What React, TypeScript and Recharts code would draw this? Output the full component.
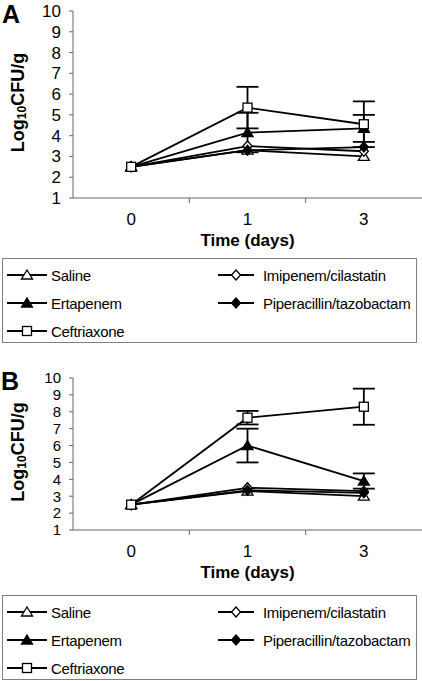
import React from 'react';
import { LineChart, Line, XAxis, YAxis, ErrorBar } from 'recharts';

const times = ['0', '1', '3'];
const yTicks = [1, 2, 3, 4, 5, 6, 7, 8, 9, 10];

const seriesKeys = ['saline', 'imipenem', 'ertapenem', 'piptaz', 'ceftriaxone'];
const seriesNames = ['Saline', 'Imipenem/cilastatin', 'Ertapenem', 'Piperacillin/tazobactam', 'Ceftriaxone'];
const seriesShapes = ['triOpen', 'diaOpen', 'triFilled', 'diaFilled', 'sqOpen'];

// Panel A
const salineA = [2.5, 3.3, 3.0];
const imipenemA = [2.5, 3.5, 3.25];
const ertapenemA = [2.5, 4.15, 4.35];
const piptazA = [2.5, 3.3, 3.45];
const ceftriaxoneA = [2.5, 5.35, 4.55];
const ertapenemErrA = [null, 0.95, 0.65];
const ceftriaxoneErrA = [null, 1.0, 1.1];

// Panel B
const salineB = [2.5, 3.3, 3.0];
const imipenemB = [2.5, 3.5, 3.3];
const ertapenemB = [2.5, 6.0, 3.9];
const piptazB = [2.5, 3.35, 3.2];
const ceftriaxoneB = [2.5, 7.65, 8.3];
const ertapenemErrB = [null, 1.0, 0.45];
const ceftriaxoneErrB = [null, 0.4, 1.07];

function buildRows(vals: number[][], ertErr: (number | null)[], cefErr: (number | null)[]) {
  return times.map((t, i) => {
    const row: any = { time: t };
    seriesKeys.forEach((k, j) => {
      row[k] = vals[j][i];
    });
    if (ertErr[i] != null) row.ertapenemErr = ertErr[i];
    if (cefErr[i] != null) row.ceftriaxoneErr = cefErr[i];
    return row;
  });
}

const dataA = buildRows([salineA, imipenemA, ertapenemA, piptazA, ceftriaxoneA], ertapenemErrA, ceftriaxoneErrA);
const dataB = buildRows([salineB, imipenemB, ertapenemB, piptazB, ceftriaxoneB], ertapenemErrB, ceftriaxoneErrB);

const FONT = '"Liberation Sans", Arial, sans-serif';
const W = 422;
const LEFT = 73;
const BAND = (W - LEFT) / times.length;

function Marker({ shape, cx, cy }: { shape: string; cx: number; cy: number }) {
  const sw = 1.3;
  if (shape === 'triOpen' || shape === 'triFilled') {
    const pts = `${cx},${cy - 5} ${cx + 5.5},${cy + 4} ${cx - 5.5},${cy + 4}`;
    return <polygon points={pts} fill={shape === 'triFilled' ? '#000' : '#fff'} stroke="#000" strokeWidth={sw} />;
  }
  if (shape === 'diaOpen' || shape === 'diaFilled') {
    const pts = `${cx},${cy - 5} ${cx + 4.5},${cy} ${cx},${cy + 5} ${cx - 4.5},${cy}`;
    return <polygon points={pts} fill={shape === 'diaFilled' ? '#000' : '#fff'} stroke="#000" strokeWidth={sw} />;
  }
  return <rect x={cx - 4.5} y={cy - 4.5} width={9} height={9} fill="#fff" stroke="#000" strokeWidth={sw} />;
}

const XTick = (props: any) => {
  const { x, y, payload, index } = props;
  return (
    <g>
      <text x={x} y={y + 27} textAnchor="middle" fontSize={17} fontFamily={FONT} fill="#000">
        {payload.value}
      </text>
      {index < times.length - 1 && (
        <line x1={x + BAND / 2} x2={x + BAND / 2} y1={y} y2={y + 5} stroke="#666" strokeWidth={1} />
      )}
    </g>
  );
};

const YLabel = (props: any) => {
  const vb = props.viewBox || { x: 13, y: 0, width: 60, height: 200 };
  const cx = 18;
  const cy = vb.y + vb.height / 2 - 2;
  return (
    <text
      x={cx}
      y={cy}
      transform={`rotate(-90 ${cx} ${cy})`}
      textAnchor="middle"
      dominantBaseline="central"
      fontSize={18}
      fontWeight="bold"
      fontFamily={FONT}
      fill="#000"
    >
      Log
      <tspan fontSize={12} dy={4}>10</tspan>
      <tspan dy={-4}>CFU/g</tspan>
    </text>
  );
};

const XLabel = (props: any) => {
  const vb = props.viewBox || { x: 73, y: 200, width: 349, height: 50 };
  return (
    <text
      x={vb.x + vb.width / 2}
      y={vb.y + 48}
      textAnchor="middle"
      fontSize={17}
      fontWeight="bold"
      fontFamily={FONT}
      fill="#000"
    >
      Time (days)
    </text>
  );
};

function Panel({ data, height, top, yFont }: { data: any[]; height: number; top: number; yFont: number }) {
  return (
    <LineChart width={W} height={height} data={data} margin={{ top, right: 0, left: 13, bottom: 2 }}>
      <XAxis
        dataKey="time"
        scale="band"
        height={50}
        tickLine={false}
        tickSize={0}
        tickMargin={0}
        tick={<XTick />}
        stroke="#666"
        interval={0}
        label={<XLabel />}
      />
      <YAxis
        domain={[1, 10]}
        ticks={yTicks}
        width={60}
        interval={0}
        tickSize={4}
        tickMargin={8}
        stroke="#666"
        tick={{ fill: '#000', fontSize: yFont, fontFamily: FONT }}
        label={<YLabel />}
      />
      {seriesKeys.map((k, j) => (
        <Line
          key={k}
          dataKey={k}
          stroke="#000"
          strokeWidth={1.8}
          isAnimationActive={false}
          dot={(p: any) => <Marker key={`${k}-${p.index}`} shape={seriesShapes[j]} cx={p.cx} cy={p.cy} />}
          activeDot={false}
        >
          {k === 'ertapenem' && (
            <ErrorBar dataKey="ertapenemErr" width={11} stroke="#000" strokeWidth={1.8} direction="y" isAnimationActive={false} />
          )}
          {k === 'ceftriaxone' && (
            <ErrorBar dataKey="ceftriaxoneErr" width={11} stroke="#000" strokeWidth={1.8} direction="y" isAnimationActive={false} />
          )}
        </Line>
      ))}
    </LineChart>
  );
}

function LegendBox({ top }: { top: number }) {
  const rowsIdx = [[0, 1], [2, 3], [4]];
  return (
    <div
      style={{
        position: 'absolute',
        left: 2,
        top,
        width: 415,
        height: 85,
        border: '1px solid #808080',
        boxSizing: 'border-box',
        fontFamily: FONT,
        fontSize: 15,
      }}
    >
      {rowsIdx.map((row, r) =>
        row.map((si, c) => (
          <div
            key={si}
            style={{ position: 'absolute', left: c === 0 ? 3 : 214, top: 6 + r * 28, height: 20, display: 'flex', alignItems: 'center' }}
          >
            <svg width={42} height={20}>
              <line x1={1} x2={c === 0 ? 41 : 37} y1={10} y2={10} stroke="#000" strokeWidth={1.8} />
              <Marker shape={seriesShapes[si]} cx={c === 0 ? 21 : 19} cy={10} />
            </svg>
            <span style={{ marginLeft: c === 0 ? 3 : 4, letterSpacing: -0.3 }}>{seriesNames[si]}</span>
          </div>
        ))
      )}
    </div>
  );
}

export default function App() {
  return (
    <div style={{ position: 'fixed', left: 0, top: 0, width: W, height: 681, background: '#fff', overflow: 'hidden' }}>
      <div style={{ position: 'absolute', left: 0, top: 0 }}>
        <Panel data={dataA} height={250} top={11} yFont={17} />
      </div>
      <div style={{ position: 'absolute', left: 2, top: 2, lineHeight: 1, fontFamily: FONT, fontWeight: 'bold', fontSize: 25 }}>A</div>
      <LegendBox top={258} />
      <div style={{ position: 'absolute', left: 0, top: 340 }}>
        <Panel data={dataB} height={242} top={38} yFont={15} />
      </div>
      <div style={{ position: 'absolute', left: 1, top: 369, lineHeight: 1, fontFamily: FONT, fontWeight: 'bold', fontSize: 25 }}>B</div>
      <LegendBox top={595} />
    </div>
  );
}
